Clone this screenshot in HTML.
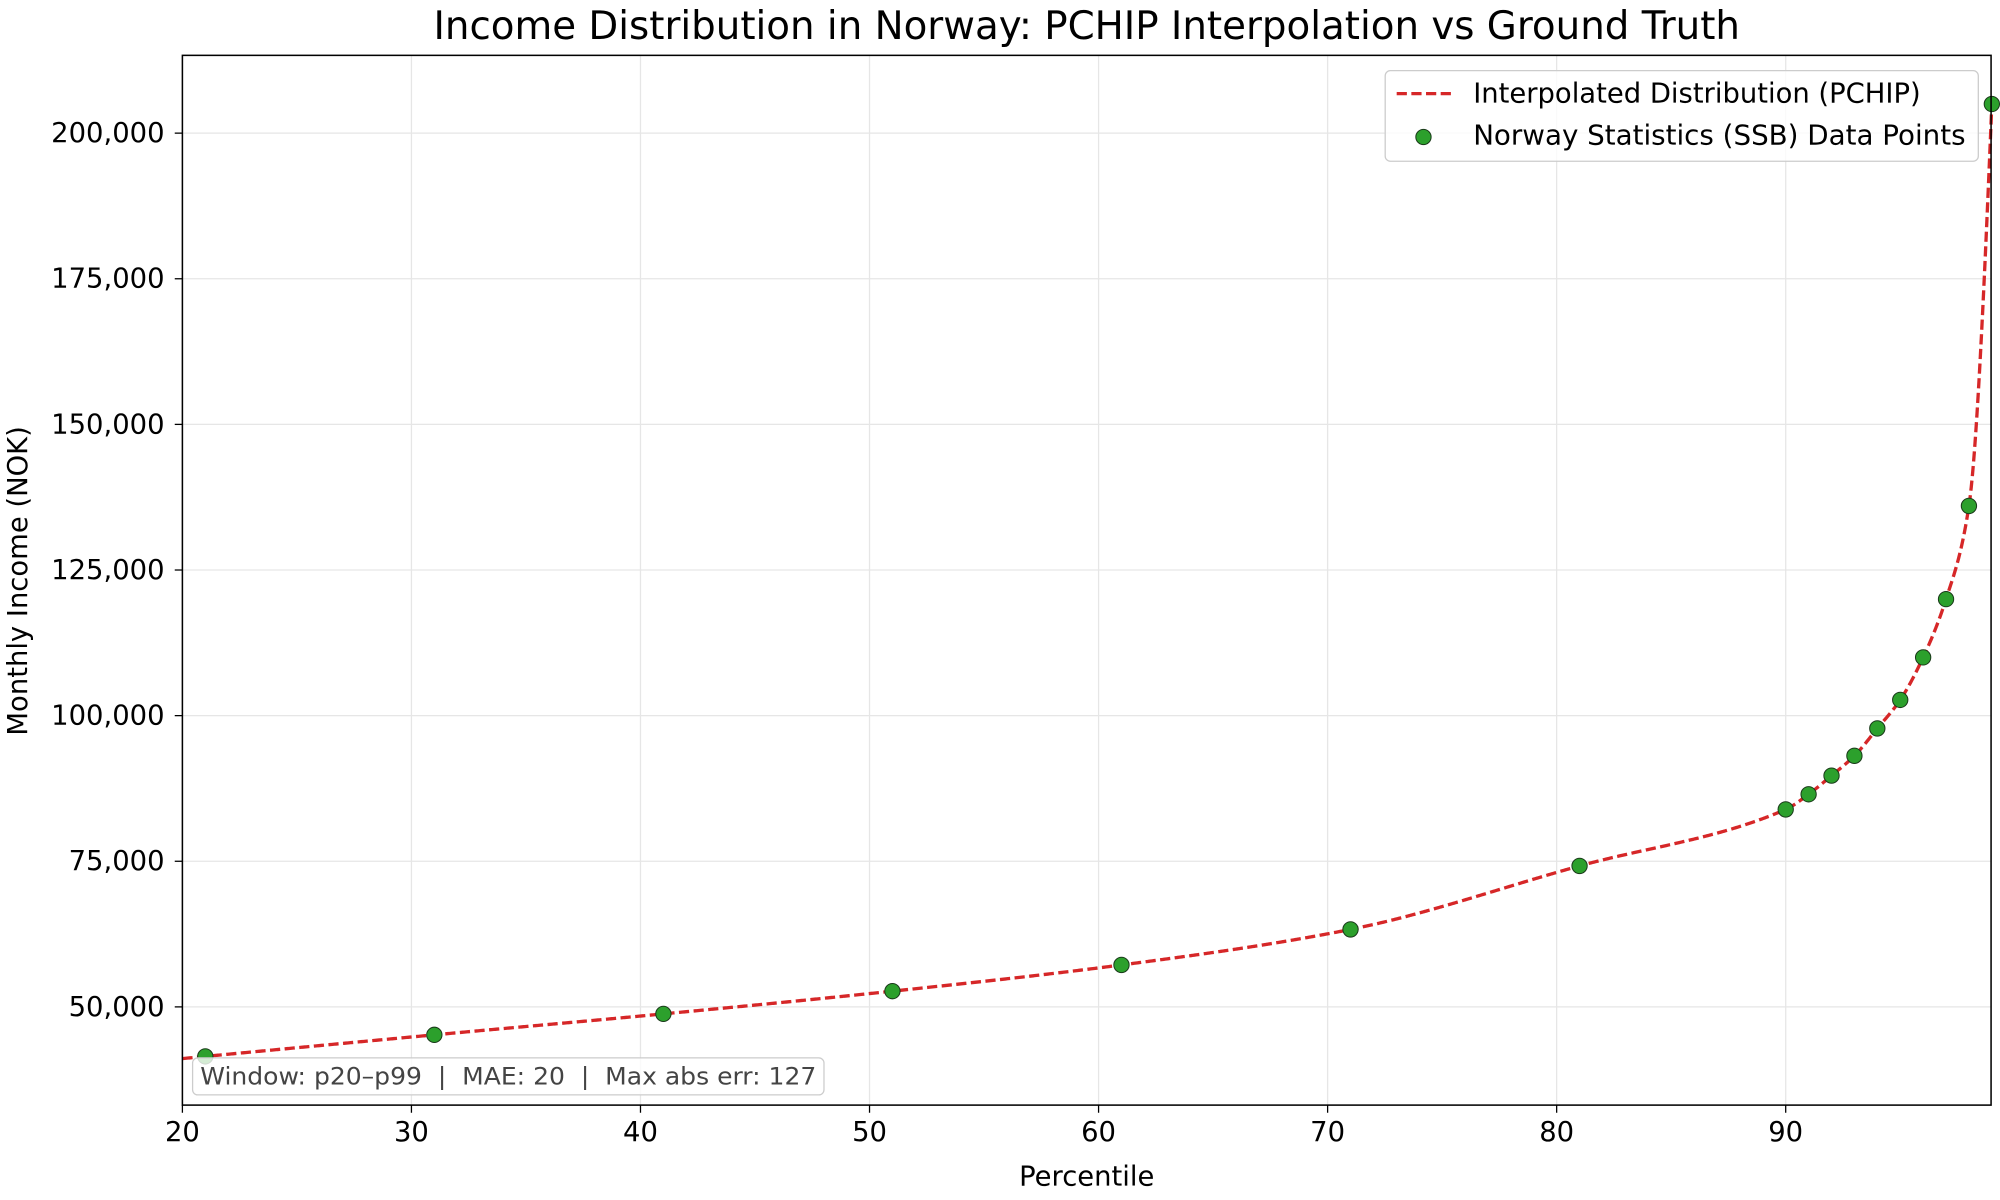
<!DOCTYPE html>
<html><head><meta charset="utf-8"><style>
html,body{margin:0;padding:0;background:#fff;}
svg{display:block;font-family:"DejaVu Sans","Liberation Sans",sans-serif;}
</style></head><body>
<svg id="s" width="2000" height="1200" viewBox="0 0 1568 940" xmlns="http://www.w3.org/2000/svg">
<rect width="1568" height="940" fill="#fff"/>
<g id="grid" stroke="#e6e6e6" stroke-width="1"></g>
<path id="line" fill="none" stroke="#d62728" stroke-width="2.6" stroke-dasharray="8,3.5"/>
<g id="pts"></g>
<rect x="143" y="43" width="1418" height="823" fill="none" stroke="#000" stroke-width="1.2"/>
<g id="ticks" font-size="21.5" fill="#000"></g>
<text x="852" y="30" font-size="30.4" text-anchor="middle">Income Distribution in Norway: PCHIP Interpolation vs Ground Truth</text>
<text x="852" y="929" font-size="21.5" text-anchor="middle">Percentile</text>
<text transform="translate(21,455) rotate(-90)" font-size="21.5" text-anchor="middle">Monthly Income (NOK)</text>
<rect x="1086" y="55" width="465" height="71" rx="4" fill="#fff" fill-opacity="0.8" stroke="#ccc"/>
<line x1="1095" y1="73" x2="1139" y2="73" stroke="#d62728" stroke-width="2.6" stroke-dasharray="8,3.5"/>
<text x="1155" y="80" font-size="21.5">Interpolated Distribution (PCHIP)</text>
<circle cx="1116" cy="107" r="6" fill="#2ca02c" stroke="#1a3a1a" stroke-width="0.8"/>
<text x="1155" y="113" font-size="21.5" textLength="386" lengthAdjust="spacingAndGlyphs">Norway Statistics (SSB) Data Points</text>
<rect x="151" y="829" width="495" height="29" rx="4" fill="#fff" fill-opacity="0.8" stroke="#ccc"/>
<text x="157" y="850" font-size="19" fill="#444" xml:space="preserve" textLength="483" lengthAdjust="spacingAndGlyphs">Window: p20–p99  |  MAE: 20  |  Max abs err: 127</text>
</svg>
<script>
const X=p=>143+(p-20)*17.957, Y=v=>789-(v-50000)/25000*114.17;
const ns="http://www.w3.org/2000/svg";
function el(t,a,par){const e=document.createElementNS(ns,t);for(const k in a)e.setAttribute(k,a[k]);document.getElementById(par).appendChild(e);return e;}
for(let p=20;p<=90;p+=10){el("line",{x1:X(p),x2:X(p),y1:43,y2:866},"grid");
 el("line",{x1:X(p),x2:X(p),y1:866,y2:872,stroke:"#000"},"ticks");
 el("text",{x:X(p),y:894,"text-anchor":"middle"},"ticks").textContent=p;}
for(let v=50000;v<=200000;v+=25000){el("line",{x1:137,x2:143,y1:Y(v),y2:Y(v),stroke:"#000"},"ticks");
 el("line",{x1:143,x2:1561,y1:Y(v),y2:Y(v)},"grid");
 el("text",{x:129,y:Y(v)+7,"text-anchor":"end"},"ticks").textContent=v.toLocaleString("en-US");}
const xs=[21,31,41,51,61,71,81,90,91,92,93,94,95,96,97,98,99];
const ys=[41500,45200,48800,52700,57200,63300,74200,83900,86500,89700,93100,97800,102700,110000,120000,136000,205000];
const n=xs.length,h=[],d=[],m=[];
for(let i=0;i<n-1;i++){h[i]=xs[i+1]-xs[i];d[i]=(ys[i+1]-ys[i])/h[i];}
for(let i=1;i<n-1;i++){if(d[i-1]*d[i]<=0)m[i]=0;else{const w1=2*h[i]+h[i-1],w2=h[i]+2*h[i-1];m[i]=(w1+w2)/(w1/d[i-1]+w2/d[i]);}}
m[0]=((2*h[0]+h[1])*d[0]-h[0]*d[1])/(h[0]+h[1]);if(m[0]*d[0]<=0)m[0]=0;
m[n-1]=((2*h[n-2]+h[n-3])*d[n-2]-h[n-2]*d[n-3])/(h[n-2]+h[n-3]);
function f(x){let i=0;if(x<xs[0])i=0;else{while(i<n-2&&x>xs[i+1])i++;}
 const t=(x-xs[i])/h[i],t2=t*t,t3=t2*t;
 return (2*t3-3*t2+1)*ys[i]+(t3-2*t2+t)*h[i]*m[i]+(-2*t3+3*t2)*ys[i+1]+(t3-t2)*h[i]*m[i+1];}
let dp="";for(let x=20;x<=99.0001;x+=0.05){dp+=(dp?"L":"M")+X(x).toFixed(2)+","+Y(f(x)).toFixed(2);}
document.getElementById("line").setAttribute("d",dp);
xs.forEach((x,i)=>el("circle",{cx:X(x),cy:Y(ys[i]),r:6,fill:"#2ca02c",stroke:"#1a3a1a","stroke-width":0.8},"pts"));
</script>
</body></html>
